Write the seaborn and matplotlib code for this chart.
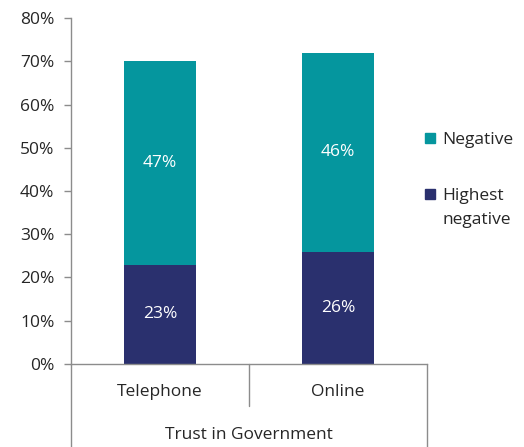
import pandas as pd
import seaborn as sns
import matplotlib.pyplot as plt
from matplotlib.patches import Rectangle
from matplotlib.lines import Line2D

# Chart data
modes = ["Telephone", "Online"]
highest_negative = [23, 26]
negative = [47, 46]
group_label = "Trust in Government"
legend_labels = [["Negative"], ["Highest", "negative"]]

teal = "#05969e"
navy = "#2a306e"
grey = "#8c8c8c"
fs = 12.5

df = pd.DataFrame({"mode": modes, "highest": highest_negative, "negative": negative})
df["total"] = df["highest"] + df["negative"]

sns.set_style("white")
plt.rcParams["font.family"] = ["Open Sans", "DejaVu Sans"]

W, H = 524, 447
fig = plt.figure(figsize=(W / 100, H / 100), dpi=100)
ax = fig.add_axes([0.1355, 0.1857, 0.6794, 0.774])

# stacked bars: full total in teal, bottom part in navy drawn over it
sns.barplot(data=df, x="mode", y="total", color=teal, width=0.405, saturation=1,
            linewidth=0, ax=ax)
sns.barplot(data=df, x="mode", y="highest", color=navy, width=0.405, saturation=1,
            linewidth=0, ax=ax)

for i, row in df.iterrows():
    ax.text(i, row["highest"] / 2, f"{row['highest']}%", ha="center", va="center",
            color="white", fontsize=fs)
    ax.text(i, row["highest"] + row["negative"] / 2, f"{row['negative']}%", ha="center",
            va="center", color="white", fontsize=fs)

ax.set_ylim(0, 80)
ax.set_xlim(-0.5, 1.5)
ax.set_yticks(range(0, 81, 10))
ax.set_yticklabels([f"{v}%" for v in range(0, 81, 10)], fontsize=fs)
ax.set_xticks([])
ax.set_xlabel("")
ax.set_ylabel("")
ax.tick_params(axis="y", left=True, length=5, width=1, color=grey, pad=7)
for s in ["top", "right"]:
    ax.spines[s].set_visible(False)
for s in ["left", "bottom"]:
    ax.spines[s].set_color(grey)
    ax.spines[s].set_linewidth(1)

# grouped category axis below the plot
tr = ax.get_xaxis_transform()
for x, y0 in [(-0.5, -0.245), (0.5, -0.121), (1.5, -0.245)]:
    ax.add_line(Line2D([x, x], [0, y0], transform=tr, color=grey, lw=1, clip_on=False))
for i, m in enumerate(modes):
    ax.text(i, -0.08, m, transform=tr, ha="center", va="center", fontsize=fs)
ax.text(0.5, -0.205, group_label, transform=tr, ha="center", va="center", fontsize=fs)

# legend, laid out by hand (square next to the first line of each label)
for lines, col, yc in zip(legend_labels, [teal, navy], [138, 194]):
    fig.add_artist(Rectangle((425 / W, 1 - (yc + 5) / H), 10 / W, 10 / H,
                             transform=fig.transFigure, color=col))
    for k, txt in enumerate(lines):
        fig.text(442 / W, 1 - (yc + 6 + 24 * k) / H, txt, ha="left", va="baseline",
                 fontsize=fs)

fig.savefig("out.png", dpi=100)
